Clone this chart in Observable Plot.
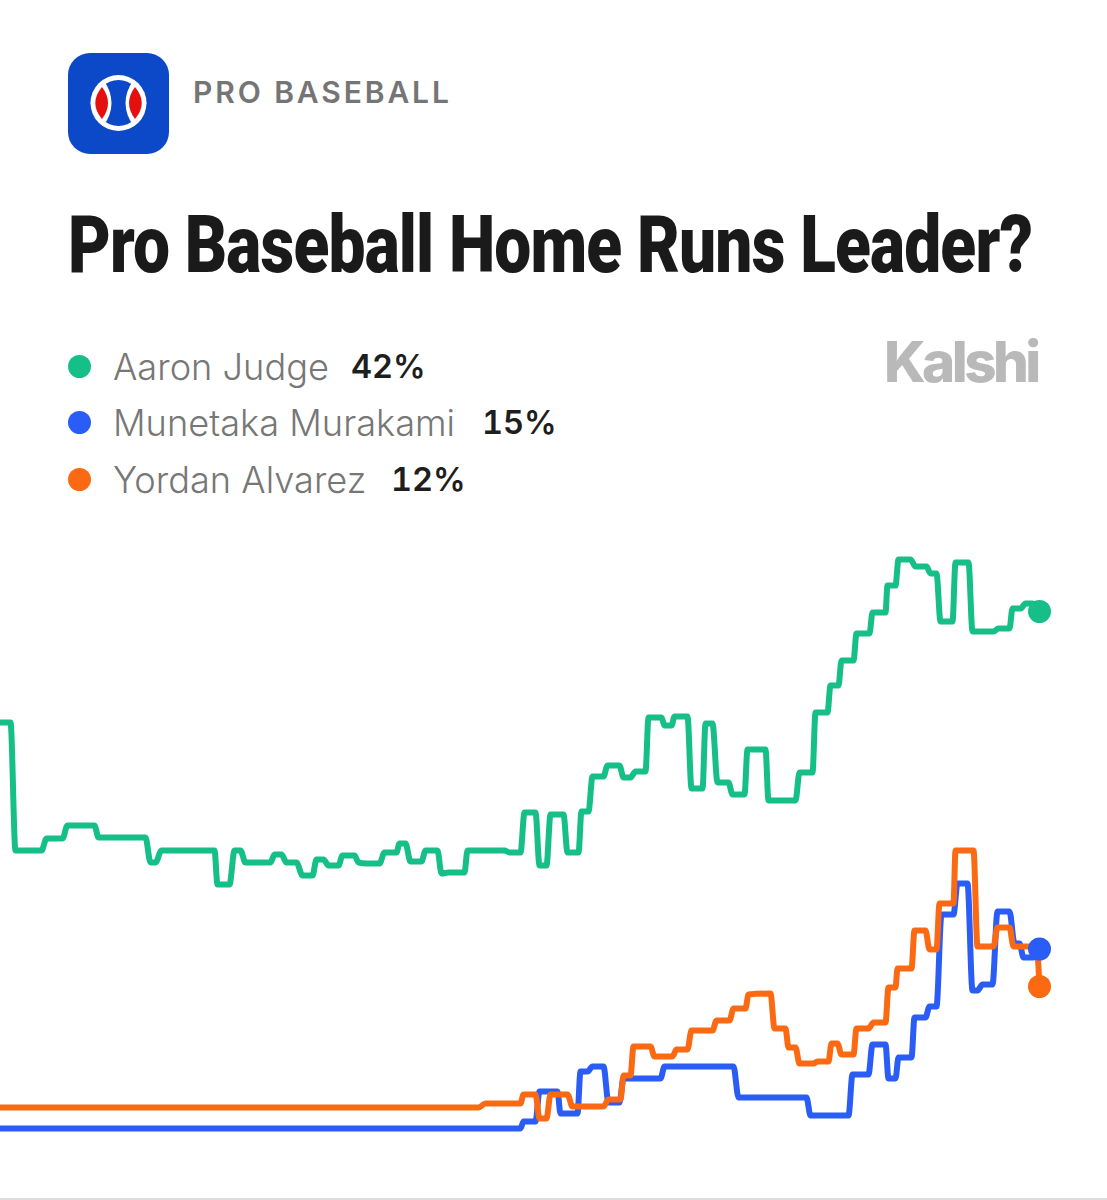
<!DOCTYPE html>
<html><head><meta charset="utf-8">
<script src="https://cdn.jsdelivr.net/npm/d3@7"></script>
<script src="https://cdn.jsdelivr.net/npm/@observablehq/plot@0.6"></script>
<style>
html,body{margin:0;padding:0;background:#fff;overflow:hidden}
#page{position:relative;width:1107px;height:1200px;overflow:hidden;background:#fff}
#page>*{position:absolute}
#section{left:193px;top:73px;font:600 30px/38px Inter,sans-serif;letter-spacing:2.9px;color:#757575;white-space:nowrap}
#title{left:68px;top:201px;font:900 80px/88px Roboto,"Liberation Sans",sans-serif;color:#1a1a1a;white-space:nowrap;transform-origin:0 0;letter-spacing:-1px}
#brand{left:884px;top:327px;font:800 56.5px/70px Inter,sans-serif;letter-spacing:-3.6px;color:#b9b9b9}
.leg{font:300 36.2px/40px Inter,sans-serif;color:#777;white-space:nowrap}
.pct{font:600 32.5px/40px Inter,sans-serif;color:#1e1e1e;white-space:nowrap;font-variant-numeric:tabular-nums}
.swatch{width:23px;height:23px;border-radius:50%}
#chart{left:0;top:540px}
#edge{left:0;top:1198px;width:1107px;height:2px;background:#dcdcdc}
</style></head><body><div id="page">
<svg id="icon" style="left:68px;top:53px" width="101" height="101" viewBox="0 0 101 101">
<rect width="101" height="101" rx="22" fill="#0b49c8"/>
<g transform="translate(50.5 50)">
<circle r="28" fill="#fff"/>
<circle r="23" fill="#0b49c8"/>
<path d="M-15 -23 Q1 0 -15 23 L-28 0Z" fill="#fff"/>
<path d="M15 -23 Q-1 0 15 23 L28 0Z" fill="#fff"/>
<path d="M-16.5 -16 Q-4.5 0 -16.5 16 Q-30 0 -16.5 -16Z" fill="#e4100f"/>
<path d="M16.5 -16 Q4.5 0 16.5 16 Q30 0 16.5 -16Z" fill="#e4100f"/>
</g>
</svg>
<div id="section">PRO BASEBALL</div>
<div id="title">Pro Baseball Home Runs Leader?</div>
<div id="brand">Kalshi</div>
<div id="legend"></div>
<div id="chart"></div>
<div id="edge"></div>
</div>
<script>
const sectionLabel = "PRO BASEBALL";
const names = ["Aaron Judge", "Munetaka Murakami", "Yordan Alvarez"];
const latest = [42, 15, 12];
const colors = ["#17bf88", "#2a5cf6", "#fb6a12"];

const judgeT = [0,10,15,41,46,62,67,94,98,145,150,155,161,214,217,229,234,240,245,270,274,281,286,296,302,312,316,323,328,338,342,354,358,366,379,384,396,399,405,410,421,425,437,441,448,464,467,504,509,520,524,535,539,546,550,563,567,578,581,588,592,603,607,619,623,630,635,645,648,661,664,671,674,687,691,702,705,712,717,728,732,744,747,765,768,795,799,812,815,827,830,838,841,853,856,869,872,885,887,895,898,910,915,926,930,936,940,952,955,968,972,993,998,1009,1012,1020,1025,1032,1039];
const judgeV = [33.12,33.12,22.88,22.88,23.84,23.84,24.88,24.88,23.92,23.92,21.92,21.92,22.88,22.88,20.16,20.16,22.88,22.88,21.92,21.92,22.56,22.56,21.92,21.92,20.88,20.88,22.16,22.16,21.68,21.68,22.48,22.48,21.92,21.84,21.84,22.72,22.72,23.44,23.44,22,22,22.88,22.88,21.04,21.12,21.12,22.88,22.88,22.72,22.72,25.92,25.92,21.68,21.68,25.76,25.76,22.72,22.72,26,26,28.8,28.8,29.68,29.68,28.72,28.72,29.2,29.2,33.52,33.52,32.88,32.88,33.6,33.6,27.84,27.84,33.04,33.04,28.32,28.32,27.36,27.36,30.96,30.96,26.88,26.88,29.12,29.12,33.92,33.92,36.08,36.08,38.08,38.08,40.24,40.24,41.92,41.92,44.08,44.08,46.16,46.16,45.6,45.6,45.04,45.04,41.2,41.2,45.92,45.92,40.4,40.4,40.64,40.64,42.24,42.24,42.64,42.64,42];

const murakamiT = [0,520,523,535,539,557,560,577,580,587,592,603,608,619,623,660,664,733,738,806,810,848,852,868,872,885,888,895,898,911,914,925,929,936,941,953,957,967,972,977,982,992,997,1009,1014,1019,1023,1033,1039];
const murakamiV = [0.64,0.64,1.2,1.2,3.6,3.6,1.84,1.84,5.2,5.2,5.6,5.6,2.72,2.72,4.64,4.64,5.6,5.6,3.12,3.12,1.68,1.68,4.96,4.96,7.36,7.36,4.64,4.64,6.32,6.32,9.52,9.52,10.4,10.4,17.76,17.76,20.24,20.24,11.68,11.68,12.16,12.16,18,18,15.44,15.44,14.32,14.32,15];

const alvarezT = [0,478,485,520,523,535,539,546,550,567,572,603,608,620,623,630,633,650,654,672,676,687,691,712,716,729,733,745,748,770,774,785,788,795,799,813,817,828,831,837,841,853,856,868,873,885,888,895,897,911,914,925,929,936,939,953,955,973,977,993,997,1009,1013,1036,1039];
const alvarezV = [2.32,2.32,2.64,2.64,3.36,3.36,1.44,1.44,3.36,3.36,2.4,2.4,2.96,2.96,4.88,4.88,7.2,7.2,6.4,6.4,6.96,6.96,8.48,8.48,9.28,9.28,10.24,10.24,11.36,11.44,8.64,8.64,7.12,7.12,5.84,5.84,6,6,7.44,7.44,6.56,6.56,8.64,8.64,9.12,9.12,11.92,11.92,13.44,13.44,16.48,16.48,14.96,14.96,18.64,18.64,22.88,22.88,15.2,15.2,16.72,16.72,15.2,15.2,12];

const legendLayout = [
  {top:346.5, nameLeft:113, pctLeft:351},
  {top:402.5, nameLeft:113, pctLeft:482},
  {top:459.5, nameLeft:113, pctLeft:391}
];
const page = document.getElementById("legend");
names.forEach((n,i)=>{
  const l = legendLayout[i];
  page.insertAdjacentHTML("beforeend",
   `<div class="swatch" style="position:absolute;left:67.5px;top:${l.top+8}px;background:${colors[i]}"></div>`+
   `<div class="leg" style="position:absolute;left:${l.nameLeft}px;top:${l.top}px">${n}</div>`+
   `<div class="pct" style="position:absolute;left:${l.pctLeft}px;top:${l.top}px">${latest[i]}%</div>`);
});

const title = document.getElementById("title");
title.style.transform = `scaleX(${964 / title.scrollWidth})`;

const toRows = (t,v)=>t.map((d,i)=>({t:d,v:v[i]}));
const series = [toRows(judgeT,judgeV), toRows(murakamiT,murakamiV), toRows(alvarezT,alvarezV)];
const lineOpts = i=>({x:"t",y:"v",stroke:colors[i],strokeWidth:6,curve:"monotone-x",strokeLinejoin:"round",strokeLinecap:"round"});
const ends = series.map(s=>s.slice(-1));
const dotOpts = i=>({x:"t",y:"v",r:11.5,fill:colors[i],stroke:null});

const chart = Plot.plot({
  width:1107,height:660,margin:0,
  style:{background:"transparent"},
  x:{axis:null,domain:[0,1107],range:[0,1107]},
  y:{axis:null,domain:[-5.12,47.68]},
  marks:[
    Plot.line(series[0],lineOpts(0)),
    Plot.line(series[1],lineOpts(1)),
    Plot.line(series[2],lineOpts(2)),
    Plot.dot(ends[0],dotOpts(0)),
    Plot.dot(ends[2],dotOpts(2)),
    Plot.dot(ends[1],dotOpts(1))
  ]
});
document.getElementById("chart").append(chart);
</script></body></html>
